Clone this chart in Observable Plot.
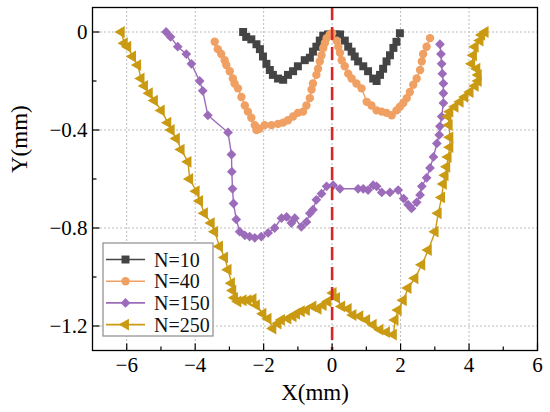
<!DOCTYPE html>
<html><head><meta charset="utf-8">
<script src="https://cdn.jsdelivr.net/npm/d3@7"></script>
<script src="https://cdn.jsdelivr.net/npm/@observablehq/plot@0.6"></script>
<style>
body{margin:0;background:#fff;}
#wrap{position:relative;width:550px;height:412px;overflow:hidden;}
#legend{position:absolute;left:0;top:0;pointer-events:none;}
</style></head><body><div id="wrap"></div>
<script>
const n10X = [-2.60,-2.51,-2.36,-2.21,-2.11,-2.02,-1.92,-1.82,-1.73,-1.58,-1.43,-1.29,-1.14,-1.00,-0.80,-0.65,-0.56,-0.46,-0.36,-0.26,-0.12,-0.02,0.10,0.23,0.37,0.47,0.57,0.66,0.76,0.91,1.05,1.20,1.30,1.40,1.49,1.59,1.69,1.79,1.88,1.98];
const n10Y = [0,-0.02,-0.03,-0.05,-0.07,-0.10,-0.13,-0.155,-0.175,-0.19,-0.195,-0.175,-0.16,-0.14,-0.115,-0.105,-0.08,-0.06,-0.035,-0.015,-0.01,-0.01,-0.01,-0.01,-0.035,-0.06,-0.08,-0.10,-0.12,-0.14,-0.16,-0.19,-0.20,-0.175,-0.15,-0.12,-0.095,-0.065,-0.04,-0.005];

const n40X = [-3.43,-3.34,-3.24,-3.14,-3.09,-2.99,-2.90,-2.85,-2.75,-2.65,-2.55,-2.46,-2.36,-2.26,-2.21,-2.12,-1.97,-1.77,-1.58,-1.43,-1.29,-1.14,-1.00,-0.85,-0.75,-0.65,-0.60,-0.56,-0.46,-0.41,-0.36,-0.31,-0.26,-0.21,-0.16,-0.07,0.0,0.13,0.18,0.23,0.28,0.37,0.47,0.57,0.71,0.86,1.01,1.15,1.30,1.45,1.59,1.74,1.88,1.98,2.08,2.18,2.27,2.37,2.47,2.57,2.62,2.66,2.76,2.86];
const n40Y = [-0.04,-0.07,-0.09,-0.115,-0.135,-0.16,-0.19,-0.21,-0.23,-0.265,-0.30,-0.325,-0.35,-0.38,-0.40,-0.395,-0.38,-0.38,-0.375,-0.37,-0.36,-0.345,-0.33,-0.325,-0.30,-0.27,-0.235,-0.21,-0.175,-0.15,-0.12,-0.095,-0.065,-0.045,-0.025,-0.01,-0.005,-0.035,-0.06,-0.085,-0.115,-0.14,-0.17,-0.19,-0.21,-0.23,-0.285,-0.30,-0.32,-0.325,-0.33,-0.34,-0.32,-0.305,-0.29,-0.27,-0.245,-0.215,-0.19,-0.155,-0.12,-0.09,-0.06,-0.025];

const n150X = [-4.85,-4.72,-4.51,-4.26,-4.11,-3.87,-3.78,-3.63,-3.04,-2.94,-2.93,-2.91,-2.88,-2.80,-2.70,-2.55,-2.41,-2.26,-2.07,-1.87,-1.68,-1.48,-1.33,-1.19,-1.09,-0.90,-0.75,-0.65,-0.56,-0.46,-0.31,-0.16,0.03,0.23,0.76,0.91,1.05,1.20,1.30,1.45,1.69,1.93,2.09,2.22,2.32,2.47,2.57,2.62,2.76,2.86,2.96,3.06,3.13,3.15,3.20,3.25,3.25,3.25,3.22,3.20,3.18,3.15];
const n150Y = [0,-0.02,-0.06,-0.09,-0.13,-0.20,-0.24,-0.34,-0.41,-0.50,-0.57,-0.64,-0.70,-0.765,-0.815,-0.83,-0.835,-0.84,-0.835,-0.82,-0.80,-0.76,-0.755,-0.78,-0.76,-0.795,-0.775,-0.74,-0.725,-0.685,-0.66,-0.63,-0.625,-0.64,-0.64,-0.64,-0.645,-0.625,-0.63,-0.655,-0.655,-0.645,-0.68,-0.705,-0.72,-0.695,-0.665,-0.63,-0.595,-0.555,-0.51,-0.455,-0.42,-0.385,-0.345,-0.29,-0.25,-0.21,-0.17,-0.13,-0.09,-0.05];

const n250X = [-6.16,-6.07,-5.97,-5.83,-5.68,-5.58,-5.48,-5.34,-5.19,-4.99,-4.80,-4.70,-4.55,-4.41,-4.21,-4.16,-3.97,-3.87,-3.73,-3.53,-3.43,-3.29,-3.14,-3.04,-2.94,-2.90,-2.85,-2.75,-2.60,-2.46,-2.31,-2.21,-2.02,-1.87,-1.73,-1.58,-1.48,-1.29,-1.14,-1.04,-0.90,-0.75,-0.56,-0.41,-0.26,-0.12,0.03,0.13,0.28,0.47,0.61,0.81,1.01,1.20,1.40,1.59,1.79,1.84,1.93,2.08,2.22,2.42,2.62,2.81,3.01,3.10,3.20,3.25,3.30,3.35,3.39,3.44,3.44,3.42,3.39,3.44,3.59,3.74,3.88,4.03,4.18,4.27,4.27,4.23,4.08,4.13,4.18,4.32,4.37,4.47];
const n250Y = [0,-0.046,-0.06,-0.10,-0.135,-0.19,-0.22,-0.25,-0.28,-0.32,-0.37,-0.40,-0.435,-0.48,-0.53,-0.60,-0.65,-0.69,-0.74,-0.78,-0.815,-0.875,-0.92,-0.97,-1.025,-1.055,-1.085,-1.10,-1.095,-1.095,-1.09,-1.115,-1.15,-1.17,-1.21,-1.19,-1.175,-1.17,-1.16,-1.15,-1.14,-1.135,-1.12,-1.13,-1.115,-1.10,-1.065,-1.085,-1.12,-1.13,-1.155,-1.16,-1.175,-1.195,-1.215,-1.225,-1.235,-1.175,-1.135,-1.095,-1.045,-1.005,-0.95,-0.89,-0.815,-0.74,-0.675,-0.62,-0.585,-0.55,-0.51,-0.47,-0.43,-0.38,-0.345,-0.325,-0.305,-0.285,-0.265,-0.245,-0.22,-0.20,-0.175,-0.15,-0.13,-0.095,-0.06,-0.035,-0.012,0];

const seriesNames = ["N=10","N=40","N=150","N=250"];
const seriesColors = ["#444444","#F0A062","#9C6CBB","#C99A12"];
const seriesSymbols = ["square","circle","diamond2","triangle"];
const seriesRotate = [0,0,0,-90];
const seriesR = [4.5,4.2,4.4,4.4];

const xTicks = [-6,-4,-2,0,2,4,6];
const xMinorTicks = [-5,-3,-1,1,3,5];
const yTicks = [0,-0.4,-0.8,-1.2];
const yMinorTicks = [-0.2,-0.6,-1.0];
const refLine = [0];

const seriesData = [[n10X,n10Y],[n40X,n40Y],[n150X,n150Y],[n250X,n250Y]];
const table = [];
seriesData.forEach(([xs,ys],i)=>xs.forEach((x,j)=>table.push({series:seriesNames[i], x, y:ys[j]})));

const FONT = "Liberation Serif, Times New Roman, serif";
const seriesMarks = [];
seriesNames.forEach((name,i)=>{
  const d = table.filter(r=>r.series===name);
  seriesMarks.push(Plot.line(d,{x:"x",y:"y",stroke:seriesColors[i],strokeWidth:1.4}));
  seriesMarks.push(Plot.dot(d,{x:"x",y:"y",symbol:()=>seriesSymbols[i],fill:seriesColors[i],stroke:"none",r:seriesR[i],rotate:seriesRotate[i]}));
});

// inward tick glyphs (custom symbols)
const tickUp = len => ({draw(ctx){ctx.moveTo(0,0);ctx.lineTo(0,-len);}});
const tickRight = len => ({draw(ctx){ctx.moveTo(0,0);ctx.lineTo(len,0);}});

const fmtY = d => d === 0 ? "0" : d3.format(".1f")(d);

const chart = Plot.plot({
  width:550, height:412,
  marginLeft:92, marginRight:13, marginTop:7, marginBottom:62,
  style:{fontFamily:FONT, fontSize:"21px", background:"#fff", color:"#000"},
  x:{domain:[-7,6], axis:null},
  y:{domain:[-1.3,0.1], axis:null},
  marks:[
    Plot.gridX(xTicks.filter(d=>d!==6),{stroke:"#bdbdbd",strokeOpacity:1,strokeDasharray:"2,2",strokeWidth:1}),
    Plot.gridY(yTicks,{stroke:"#bdbdbd",strokeOpacity:1,strokeDasharray:"2,2",strokeWidth:1}),
    ...seriesMarks,
    Plot.ruleX(refLine,{stroke:"#D62828",strokeWidth:2.6,strokeDasharray:"13,7"}),
    Plot.frame({stroke:"#000",strokeWidth:1.3}),
    Plot.dot(xTicks,{x:d=>d,frameAnchor:"bottom",symbol:tickUp(7),stroke:"#000",fill:"none",strokeWidth:1.2,r:4}),
    Plot.dot(xMinorTicks,{x:d=>d,frameAnchor:"bottom",symbol:tickUp(4),stroke:"#000",fill:"none",strokeWidth:1.2,r:4}),
    Plot.dot(yTicks,{y:d=>d,frameAnchor:"left",symbol:tickRight(7),stroke:"#000",fill:"none",strokeWidth:1.2,r:4}),
    Plot.dot(yMinorTicks,{y:d=>d,frameAnchor:"left",symbol:tickRight(4),stroke:"#000",fill:"none",strokeWidth:1.2,r:4}),
    Plot.axisX(xTicks,{anchor:"bottom",tickSize:0,tickPadding:7,tickFormat:d3.format("d"),fontSize:21,label:null}),
    Plot.axisY(yTicks,{anchor:"left",tickSize:0,tickPadding:5,tickFormat:fmtY,fontSize:21,label:null}),
    Plot.text(["X(mm)"],{text:d=>d,frameAnchor:"bottom",lineAnchor:"middle",dy:42,fontSize:23}),
    Plot.text(["Y(mm)"],{text:d=>d,frameAnchor:"left",lineAnchor:"middle",rotate:-90,dx:-73,dy:-6,fontSize:23})
  ]
});
const wrap = document.getElementById("wrap");
wrap.appendChild(chart);

// legend overlay
const lg = d3.select(wrap).append("svg").attr("id","legend").attr("width",550).attr("height",412);
lg.append("rect").attr("x",103).attr("y",243).attr("width",110).attr("height",93)
  .attr("fill","#fff").attr("stroke","#8c8c8c").attr("stroke-width",1.2);
const symMap = {square:d3.symbolSquare, circle:d3.symbolCircle, diamond2:d3.symbolDiamond2, triangle:d3.symbolTriangle};
seriesNames.forEach((name,i)=>{
  const cy = 259.5 + i*21.7;
  const g = lg.append("g");
  g.append("line").attr("x1",106).attr("x2",145).attr("y1",cy).attr("y2",cy)
    .attr("stroke",seriesColors[i]).attr("stroke-width",1.6);
  g.append("path").attr("d",d3.symbol(symMap[seriesSymbols[i]], Math.PI*seriesR[i]*seriesR[i])())
    .attr("transform",`translate(125.5,${cy}) rotate(${seriesRotate[i]})`).attr("fill",seriesColors[i]);
  g.append("text").attr("x",154).attr("y",cy).attr("dy","0.35em")
    .attr("font-family",FONT).attr("font-size",20).attr("fill","#111").text(name);
});
</script></body></html>
